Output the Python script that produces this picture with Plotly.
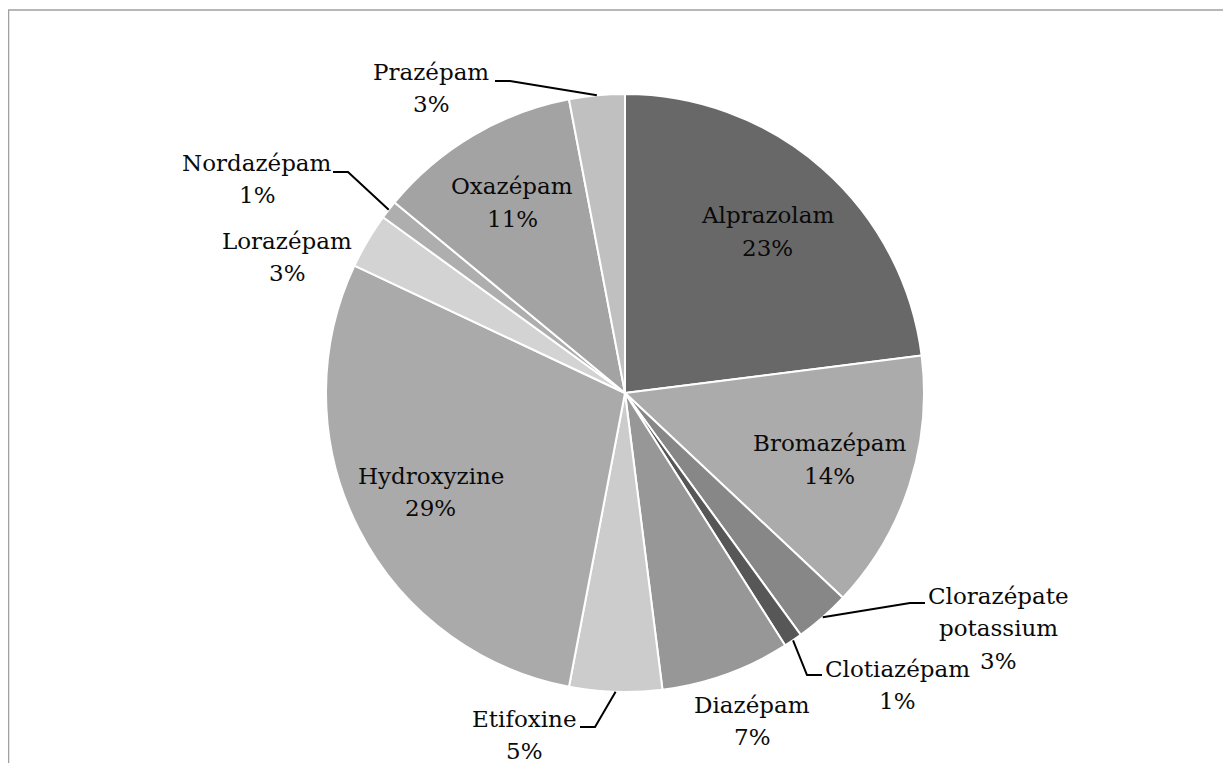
import math
import plotly.graph_objects as go

# data, clockwise from 12 o'clock
drugs = ["Alprazolam", "Bromazépam", "Clorazépate<br>potassium", "Clotiazépam",
         "Diazépam", "Etifoxine", "Hydroxyzine", "Lorazépam", "Nordazépam",
         "Oxazépam", "Prazépam"]
shares = [23, 14, 3, 1, 7, 5, 29, 3, 1, 11, 3]
greys = ["#686868", "#ababab", "#878787", "#575757", "#979797", "#cccccc",
         "#aaaaaa", "#d3d3d3", "#aeaeae", "#a3a3a3", "#c0c0c0"]

# geometry in screenshot pixels (page has 8px body margin)
W, H, OFF = 1215, 755, 8
CX, CY, R = 625, 393, 299
LINE_H = 32.5
FONT = "DejaVu Serif"

# labels drawn inside slices, at this fraction of the radius
inside = {"Alprazolam": 0.72, "Bromazépam": 0.72, "Hydroxyzine": 0.73, "Oxazépam": 0.74}
# outside labels: block centre, and leader elbow / end (None = no leader)
outside = {
    "Prazépam": (431, 88, (510, 81), (495, 81)),
    "Nordazépam": (257, 179, (348, 172), (333, 172)),
    "Lorazépam": (287, 257, None, None),
    "Clorazépate<br>potassium": (998, 628, (910, 603), (925, 603)),
    "Clotiazépam": (897, 685, (807, 675), (822, 675)),
    "Diazépam": (752, 721, None, None),
    "Etifoxine": (524, 735, (595, 727), (580, 727)),
}


def px(x):
    return (x - OFF) / W


def py(y):
    return 1 - (y - OFF) / H


fig = go.Figure()
fig.add_trace(go.Pie(
    labels=drugs,
    values=shares,
    sort=False,
    direction="clockwise",
    rotation=0,
    marker=dict(colors=greys, line=dict(color="white", width=2)),
    textinfo="none",
    showlegend=False,
    domain=dict(x=[px(CX - R), px(CX + R)], y=[py(CY + R), py(CY - R)]),
    hovertemplate="%{label}: %{percent}<extra></extra>",
))

annotations = []
shapes = []
total = sum(shares)
cum = 0
for name, v in zip(drugs, shares):
    ang = 2 * math.pi * (cum + v / 2) / total
    cum += v
    lines = name.split("<br>") + [f"{v / total:.0%}"]
    if name in inside:
        f = inside[name]
        cx, cy = CX + f * R * math.sin(ang), CY - f * R * math.cos(ang)
    else:
        cx, cy, elbow, end = outside[name]
        if elbow is not None:
            rx, ry = CX + R * math.sin(ang), CY - R * math.cos(ang)
            shapes.append(dict(
                type="path", xref="paper", yref="paper",
                path=f"M {px(rx)},{py(ry)} L {px(elbow[0])},{py(elbow[1])} L {px(end[0])},{py(end[1])}",
                line=dict(color="black", width=2),
            ))
    n = len(lines)
    for i, t in enumerate(lines):
        annotations.append(dict(
            text=t, x=px(cx), y=py(cy + (i - (n - 1) / 2) * LINE_H),
            xref="paper", yref="paper", xanchor="center", yanchor="middle",
            showarrow=False, font=dict(family=FONT, size=23, color="#0a0a0a"),
        ))

# chart frame
shapes.append(dict(
    type="rect", xref="paper", yref="paper",
    x0=px(8.5), x1=px(1224), y0=py(800), y1=py(10),
    line=dict(color="#a0a0a0", width=1.5), fillcolor="rgba(0,0,0,0)",
))

fig.update_layout(
    width=W, height=H,
    margin=dict(l=0, r=0, t=0, b=0),
    paper_bgcolor="white",
    plot_bgcolor="white",
    annotations=annotations,
    shapes=shapes,
)
fig.write_html("out.html")
